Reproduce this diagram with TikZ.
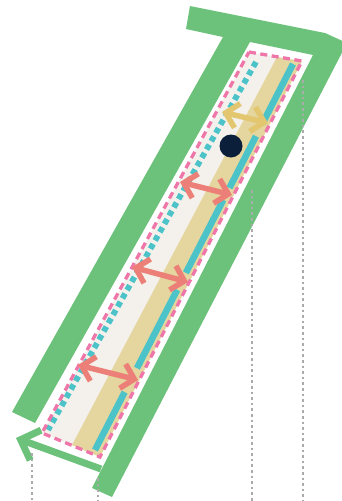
\documentclass[tikz,border=0pt]{standalone}
\usepackage{tikz}
\usetikzlibrary{arrows.meta,calc}
\definecolor{railgreen}{HTML}{6DC27B}
\definecolor{edgepink}{HTML}{EF76A8}
\definecolor{stripteal}{HTML}{4CC3C8}
\definecolor{planktan}{HTML}{E5D59E}
\definecolor{planklight}{HTML}{F4F1EC}
\definecolor{arrowsalmon}{HTML}{EC8078}
\definecolor{arrowgold}{HTML}{E2C770}
\definecolor{dotnavy}{HTML}{0B1F3B}
\definecolor{guidegray}{HTML}{ABABAB}

\begin{document}
\begin{tikzpicture}[x=1pt,y=-1pt,
  twoway/.style={line width=5.5pt,
    {Straight Barb[sharp,length=12pt,width=25pt]}-{Straight Barb[sharp,length=12pt,width=25pt]}},
  guide/.style={guidegray,line width=2.6pt,dash pattern=on 2.6pt off 3pt}]
  \useasboundingbox (0,0) rectangle (342,501);
  % frame
  \coordinate (g0) at (12,412);
  \coordinate (g1) at (35,423);
  \coordinate (g2) at (250,42);
  \coordinate (g3) at (313,55);
  \coordinate (g4) at (92,488);
  \coordinate (g5) at (112,497);
  \coordinate (g6) at (347,43);
  \coordinate (g7) at (325,33);
  \coordinate (g8) at (190,6);
  \coordinate (g9) at (186,29);
  \coordinate (g10) at (223,37);
  \fill[railgreen] (g0)--(g1)--(g2)--(g3)--(g4)--(g5)--(g6)--(g7)--(g8)--(g9)--(g10)--cycle;
  \coordinate (tail) at (101,469);
  \coordinate (head) at (16,438);
  \draw[railgreen,line width=7pt,-{Straight Barb[sharp,length=16pt,width=32pt]}] (tail)--(head);
  % plank
  \coordinate (k0) at (249,52);
  \coordinate (k1) at (302,61);
  \coordinate (k2) at (100,457);
  \coordinate (k3) at (42,433);
  \coordinate (s0) at (277,57);
  \coordinate (s1) at (72,445);
  \fill[planklight] (k0)--(k1)--(k2)--(k3)--cycle;
  \fill[planktan] (s0)--(k1)--(k2)--(s1)--cycle;
  \draw[stripteal,line width=5.8pt,dash pattern=on 5.5pt off 4pt] (256,62)--(48,430);
  \coordinate (t0) at (293,64);
  \coordinate (t1) at (95,450);
  \draw[stripteal,line width=6.5pt] (t0)--($(t0)!0.155!(t1)$);
  \draw[stripteal,line width=6.5pt] ($(t0)!0.187!(t1)$)--($(t0)!0.321!(t1)$);
  \draw[stripteal,line width=6.5pt] ($(t0)!0.352!(t1)$)--($(t0)!0.541!(t1)$);
  \draw[stripteal,line width=6.5pt] ($(t0)!0.585!(t1)$)--($(t0)!0.788!(t1)$);
  \draw[stripteal,line width=6.5pt] ($(t0)!0.850!(t1)$)--(t1);
  \draw[edgepink,line width=3.3pt,dash pattern=on 7pt off 4.5pt] (k0)--(k1)--(k2)--(k3)--cycle;
  % arrows
  \coordinate (y0) at (222,112);
  \coordinate (y1) at (268,123);
  \coordinate (a0) at (180,182);
  \coordinate (a1) at (232,195);
  \coordinate (b0) at (132,267);
  \coordinate (b1) at (188,282);
  \coordinate (c0) at (78,365);
  \coordinate (c1) at (138,380);
  \draw[twoway,arrowgold] (y0)--(y1);
  \draw[twoway,arrowsalmon] (a0)--(a1);
  \draw[twoway,arrowsalmon] (b0)--(b1);
  \draw[twoway,arrowsalmon] (c0)--(c1);
  \fill[dotnavy] (231,146) circle (11.5);
  % guides
  \draw[guide] (32,453)--(32,501);
  \draw[guide] (98,478)--(98,501);
  \draw[guide] (252,190)--(252,501);
  \draw[guide] (303,80)--(303,501);
\end{tikzpicture}
\end{document}
